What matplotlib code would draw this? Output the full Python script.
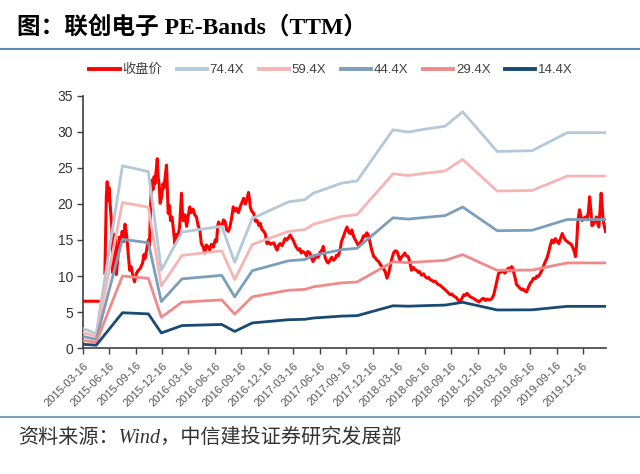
import numpy as np
import pandas as pd
import matplotlib
matplotlib.use('Agg')
import matplotlib.pyplot as plt
import matplotlib.dates as mdates
from matplotlib.lines import Line2D

cjk = 'Noto Sans CJK SC'

pe_multiples = [74.4, 59.4, 44.4, 29.4, 14.4]
band_labels = ['74.4X', '59.4X', '44.4X', '29.4X', '14.4X']
band_colors = ['#b3c8da', '#f6b5b5', '#7b9fbb', '#f08a8a', '#194a74']

# TTM EPS at the band vertices (band = PE multiple * EPS)
eps_dates = ['2015-03-16', '2015-05-01', '2015-07-31', '2015-10-29', '2015-12-13',
             '2016-02-23', '2016-07-10', '2016-08-24', '2016-10-24', '2017-02-27',
             '2017-04-25', '2017-05-24', '2017-08-31', '2017-10-23', '2018-02-25',
             '2018-04-19', '2018-06-17', '2018-08-25', '2018-10-25', '2019-02-22',
             '2019-06-23', '2019-10-23', '2020-03-06']
eps_ttm = [0.0363, 0.0269, 0.3401, 0.3293, 0.1452,
           0.2164, 0.2272, 0.1599, 0.2419, 0.2728,
           0.2769, 0.2890, 0.3078, 0.3118, 0.4073,
           0.4032, 0.4086, 0.4140, 0.4409, 0.3669,
           0.3683, 0.4019, 0.4019]

price_dates = [
    '2015-03-16', '2015-05-08', '2015-05-20',
    '2015-05-31', '2015-06-05', '2015-06-08', '2015-06-12', '2015-06-14',
    '2015-06-19', '2015-06-24', '2015-06-28', '2015-07-02', '2015-07-06',
    '2015-07-10', '2015-07-15', '2015-07-20', '2015-07-25', '2015-07-30',
    '2015-08-04', '2015-08-09', '2015-08-15', '2015-08-19', '2015-08-25',
    '2015-08-30', '2015-09-05', '2015-09-11', '2015-09-18', '2015-09-24',
    '2015-09-30', '2015-10-09', '2015-10-14', '2015-10-17', '2015-10-23',
    '2015-10-29', '2015-11-02', '2015-11-06', '2015-11-10', '2015-11-14',
    '2015-11-18', '2015-11-21', '2015-11-25', '2015-11-29', '2015-12-02',
    '2015-12-06', '2015-12-09', '2015-12-14', '2015-12-19', '2015-12-22',
    '2015-12-27', '2015-12-31', '2016-01-03', '2016-01-06', '2016-01-10',
    '2016-01-14', '2016-01-19', '2016-01-23', '2016-01-29', '2016-02-03',
    '2016-02-09', '2016-02-15', '2016-02-21', '2016-02-24', '2016-02-27',
    '2016-03-04', '2016-03-10', '2016-03-16', '2016-03-21', '2016-03-26',
    '2016-04-01', '2016-04-07', '2016-04-13', '2016-04-19', '2016-04-25',
    '2016-04-30', '2016-05-07', '2016-05-12', '2016-05-17', '2016-05-23',
    '2016-05-29', '2016-06-04', '2016-06-11', '2016-06-17', '2016-06-22',
    '2016-06-26', '2016-06-29', '2016-07-04', '2016-07-10', '2016-07-16',
    '2016-07-22', '2016-07-27', '2016-08-02', '2016-08-08', '2016-08-13',
    '2016-08-19', '2016-08-25', '2016-08-31', '2016-09-06', '2016-09-12',
    '2016-09-18', '2016-09-24', '2016-09-30', '2016-10-06', '2016-10-11',
    '2016-10-15', '2016-10-17', '2016-10-22', '2016-10-29', '2016-11-04',
    '2016-11-10', '2016-11-16', '2016-11-21', '2016-11-26', '2016-12-01',
    '2016-12-08', '2016-12-14', '2016-12-20', '2016-12-26', '2016-12-31',
    '2017-01-07', '2017-01-12', '2017-01-18', '2017-01-24', '2017-01-29',
    '2017-02-04', '2017-02-09', '2017-02-15', '2017-02-21', '2017-02-28',
    '2017-03-05', '2017-03-10', '2017-03-15', '2017-03-21', '2017-03-26',
    '2017-04-02', '2017-04-07', '2017-04-12', '2017-04-18', '2017-04-25',
    '2017-04-30', '2017-05-05', '2017-05-12', '2017-05-17', '2017-05-23',
    '2017-05-29', '2017-06-04', '2017-06-10', '2017-06-17', '2017-06-23',
    '2017-06-28', '2017-07-04', '2017-07-10', '2017-07-15', '2017-07-21',
    '2017-07-27', '2017-08-02', '2017-08-08', '2017-08-13', '2017-08-19',
    '2017-08-25', '2017-08-30', '2017-09-06', '2017-09-12', '2017-09-18',
    '2017-09-25', '2017-09-30', '2017-10-05', '2017-10-11', '2017-10-17',
    '2017-10-23', '2017-10-29', '2017-11-03', '2017-11-09', '2017-11-15',
    '2017-11-21', '2017-11-26', '2017-12-02', '2017-12-08', '2017-12-13',
    '2017-12-20', '2017-12-26', '2017-12-31', '2018-01-06', '2018-01-12',
    '2018-01-18', '2018-01-23', '2018-01-29', '2018-02-04', '2018-02-10',
    '2018-02-15', '2018-02-21', '2018-02-27', '2018-03-05', '2018-03-11',
    '2018-03-16', '2018-03-21', '2018-03-26', '2018-04-02', '2018-04-07',
    '2018-04-12', '2018-04-19', '2018-04-25', '2018-04-30', '2018-05-07',
    '2018-05-12', '2018-05-18', '2018-05-24', '2018-05-29', '2018-06-04',
    '2018-06-11', '2018-06-17', '2018-06-23', '2018-06-29', '2018-07-04',
    '2018-07-10', '2018-07-16', '2018-07-21', '2018-07-27', '2018-08-02',
    '2018-08-08', '2018-08-14', '2018-08-19', '2018-08-25', '2018-08-30',
    '2018-09-06', '2018-09-12', '2018-09-18', '2018-09-24', '2018-09-30',
    '2018-10-05', '2018-10-10', '2018-10-15', '2018-10-21', '2018-10-29',
    '2018-11-03', '2018-11-09', '2018-11-15', '2018-11-21', '2018-11-26',
    '2018-12-02', '2018-12-08', '2018-12-13', '2018-12-20', '2018-12-26',
    '2018-12-31', '2019-01-06', '2019-01-12', '2019-01-18', '2019-01-23',
    '2019-01-29', '2019-02-04', '2019-02-10', '2019-02-15', '2019-02-21',
    '2019-02-27', '2019-03-05', '2019-03-11', '2019-03-15', '2019-03-21',
    '2019-03-27', '2019-04-02', '2019-04-07', '2019-04-13', '2019-04-18',
    '2019-04-21', '2019-04-26', '2019-04-30', '2019-05-06', '2019-05-12',
    '2019-05-18', '2019-05-23', '2019-05-29', '2019-06-04', '2019-06-10',
    '2019-06-17', '2019-06-23', '2019-06-28', '2019-07-04', '2019-07-10',
    '2019-07-15', '2019-07-21', '2019-07-27', '2019-08-02', '2019-08-08',
    '2019-08-14', '2019-08-19', '2019-08-25', '2019-08-31', '2019-09-06',
    '2019-09-12', '2019-09-18', '2019-09-24', '2019-09-30', '2019-10-06',
    '2019-10-11', '2019-10-17', '2019-10-23', '2019-10-29', '2019-11-03',
    '2019-11-09', '2019-11-15', '2019-11-21', '2019-11-25', '2019-11-27',
    '2019-11-29', '2019-12-02', '2019-12-05', '2019-12-10', '2019-12-14',
    '2019-12-20', '2019-12-26', '2019-12-31', '2020-01-05', '2020-01-09',
    '2020-01-14', '2020-01-17', '2020-01-21', '2020-01-27', '2020-02-02',
    '2020-02-06', '2020-02-10', '2020-02-14', '2020-02-18', '2020-02-22',
    '2020-02-25', '2020-02-29', '2020-03-04']
price_close = [
    6.5, 6.5, np.nan,
    10.4, 21.0, 23.1, 20.5, 22.3,
    19.6, 16.8, 10.4, 13.6, 15.8,
    10.2, 12.5, 15.4, 14.8, 16.2,
    14.8, 17.2, 15.5, 13.6, 10.8,
    11.3, 10.1, 9.2, 10.4, 10.8,
    11.0, 11.8, 13.0, 12.4, 13.6,
    15.0, 14.2, 20.0, 23.3, 22.0,
    23.8, 22.8, 24.5, 26.3, 23.8,
    22.5, 20.1, 21.0, 22.8, 22.2,
    24.0, 25.4, 22.0, 18.7, 19.8,
    17.7, 18.2, 16.9, 14.5, 15.8,
    15.4, 17.0, 21.5, 19.0, 17.7,
    18.5, 16.9, 18.5, 19.6, 18.8,
    19.3, 18.5, 18.2, 17.0, 16.4,
    14.5, 14.0, 13.2, 14.3, 14.1,
    13.6, 14.4, 14.0, 15.0, 14.8,
    17.0, 17.5, 17.0, 16.9, 17.8,
    17.5, 16.4, 16.2, 16.9, 18.0,
    19.6, 19.0, 19.4, 18.8, 19.6,
    20.2, 20.8, 20.0, 20.8, 21.6,
    20.5, 19.6, 19.0, 18.7, 17.6,
    17.7, 17.0, 17.3, 16.5, 16.3,
    15.9, 14.5, 14.7, 14.4, 14.5,
    14.6, 14.1, 13.6, 14.3, 14.5,
    14.2, 14.6, 15.2, 15.0, 15.4,
    15.7, 15.3, 15.0, 14.4, 14.0,
    13.6, 13.8, 13.2, 13.4, 13.2,
    12.8, 13.4, 13.2, 12.6, 12.0,
    12.4, 12.8, 12.6, 13.3, 13.6,
    14.1, 12.6, 12.0, 11.8, 12.2,
    12.6, 12.2, 12.4, 12.9, 12.8,
    13.6, 14.8, 15.5, 16.2, 16.8,
    16.0, 15.9, 16.4, 15.5, 15.0,
    14.6, 14.1, 14.6, 15.0, 15.6,
    15.5, 16.0, 15.6, 14.5, 13.6,
    12.7, 12.5, 12.2, 12.0, 11.6,
    11.3, 11.0, 10.6, 9.7, 10.4,
    11.3, 12.4, 13.2, 13.5, 13.4,
    12.8, 12.2, 12.6, 12.9, 13.2,
    12.8, 12.7, 11.8, 10.8, 11.2,
    10.9, 10.8, 10.5, 10.6, 10.1,
    10.3, 9.9, 9.7, 9.8, 9.5,
    9.4, 9.2, 9.3, 9.0, 8.8,
    8.7, 8.5, 8.3, 8.1, 7.9,
    7.6, 7.4, 7.5, 7.2, 7.1,
    6.9, 6.6, 6.4, 6.8, 7.4,
    7.3, 7.6, 7.3, 7.1, 7.0,
    6.9, 6.7, 6.6, 6.4, 6.6,
    6.8, 6.9, 6.6, 6.8, 6.7,
    6.7, 6.9, 7.4, 8.3, 9.4,
    10.4, 10.5, 10.8, 10.6, 10.4,
    10.8, 11.1, 10.7, 11.3, 11.0,
    10.4, 9.6, 8.8, 8.6, 8.3,
    8.1, 8.2, 7.9, 7.8, 8.4,
    9.0, 9.3, 9.7, 9.6, 10.0,
    9.9, 10.3, 10.8, 11.4, 12.0,
    12.5, 13.2, 14.2, 15.0, 14.6,
    15.2, 14.8, 14.5, 15.2, 15.9,
    15.4, 15.0, 14.8, 14.6, 14.5,
    14.2, 13.6, 12.7, 14.5, 15.9,
    17.5, 18.4, 19.2, 18.3, 17.7,
    18.0, 18.2, 17.8, 19.0, 21.0,
    18.8, 17.0, 17.1, 17.6, 18.2,
    17.3, 16.8, 19.0, 21.5, 19.5,
    17.7, 17.0, 16.2]

fig = plt.figure(figsize=(6.4, 4.74), dpi=100)
ax = fig.add_axes([0.1297, 0.2658, 0.8172, 0.5317])

ax.plot(pd.to_datetime(price_dates), price_close, color='#ff0000', lw=2.2,
        label='收盘价', zorder=2)
eps_d = pd.to_datetime(eps_dates)
for m, lab, col in zip(pe_multiples, band_labels, band_colors):
    ax.plot(eps_d, m * np.array(eps_ttm), color=col, lw=2.0, label=lab, zorder=3)

ax.set_ylim(0, 35)
ax.set_yticks(range(0, 36, 5))
ax.set_xlim(pd.Timestamp('2015-03-16'), pd.Timestamp('2020-03-06'))
ax.xaxis.set_major_locator(mdates.MonthLocator(bymonth=[3, 6, 9, 12], bymonthday=16))
ax.xaxis.set_major_formatter(mdates.DateFormatter('%Y-%m-%d'))

for s in ['top', 'right']:
    ax.spines[s].set_visible(False)
for s in ['left', 'bottom']:
    ax.spines[s].set_color('#404040')
    ax.spines[s].set_linewidth(1.2)
ax.tick_params(axis='y', direction='out', length=4, width=1.0, color='#404040',
               labelsize=10, labelcolor='#333333', pad=3)
ax.tick_params(axis='x', direction='out', length=4, width=1.0, color='#404040',
               labelsize=8, labelcolor='#555555', pad=5)
for lbl in ax.get_xticklabels():
    lbl.set_rotation(45)
    lbl.set_ha('right')
    lbl.set_rotation_mode('anchor')
    lbl.set_family(['Liberation Sans', 'DejaVu Sans'])
for lbl in ax.get_yticklabels():
    lbl.set_family(['Liberation Sans', 'DejaVu Sans'])

leg = fig.legend(loc='center', bbox_to_anchor=(331 / 640, 1 - 70 / 474), ncol=6,
                 frameon=False, handlelength=2.3, columnspacing=1.1,
                 handletextpad=0.2, prop={'family': ['Liberation Sans', cjk], 'size': 9.5})
for h in leg.get_lines():
    h.set_linewidth(2.8)
for t in leg.get_texts():
    t.set_color('#404040')

fig.text(17 / 640, 1 - 27 / 474, '图：联创电子 PE-Bands（TTM）', fontsize=17,
         weight='bold', family=['Liberation Serif', cjk], va='center', ha='left')
fig.add_artist(Line2D([0, 1], [1 - 49 / 474] * 2, color='#5b8cb2', lw=1.5,
                      transform=fig.transFigure))
fig.add_artist(Line2D([0, 1], [1 - 417 / 474] * 2, color='#7fa3bf', lw=1.5,
                      transform=fig.transFigure))
fig.text(18 / 640, 1 - 438 / 474, '资料来源：Wind，中信建投证券研究发展部', fontsize=14.5,
         style='italic', family=['Liberation Serif', cjk], color='#333333',
         va='center', ha='left')

fig.savefig('out.png', dpi=100)
